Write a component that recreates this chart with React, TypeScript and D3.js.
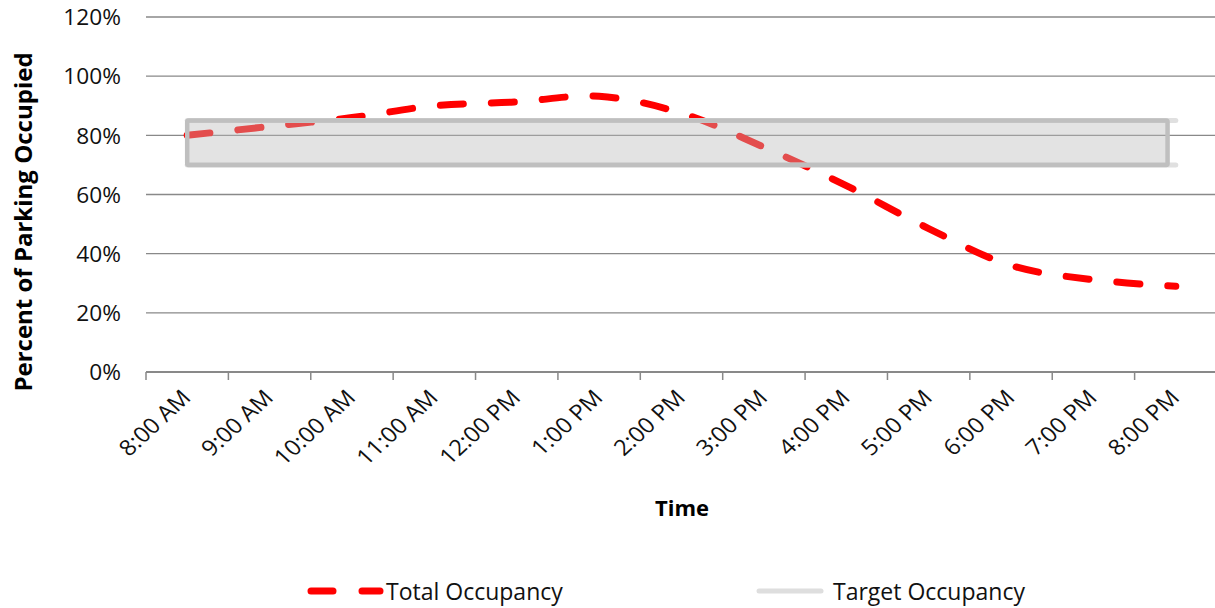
import React from 'react';
import * as d3 from 'd3';

const times = ['8:00 AM', '9:00 AM', '10:00 AM', '11:00 AM', '12:00 PM', '1:00 PM', '2:00 PM',
    '3:00 PM', '4:00 PM', '5:00 PM', '6:00 PM', '7:00 PM', '8:00 PM'];
const totalOccupancy = [80, 83, 86, 90, 91.3, 93.2, 87.5, 76, 63, 48.5, 36, 31.2, 29];
const targetLow = 70;
const targetHigh = 85;
const yTicks = [0, 20, 40, 60, 80, 100, 120];

const width = 1215;
const height = 608;
const font = "'Open Sans', 'Liberation Sans', sans-serif";
// the source picture is a little wider than tall, so text is stretched sideways a bit
const stretch = 1.08;

const App: React.FC = () => {
    const margin = { top: 17, right: -2, bottom: 236, left: 146 };
    const innerBottom = height - margin.bottom;

    const xScale = d3.scaleBand<string>()
        .domain(times)
        .range([margin.left, width - margin.right])
        .padding(0);
    const bw = xScale.bandwidth();
    const cx = (t: string) => (xScale(t) ?? 0) + bw / 2;

    const yScale = d3.scaleLinear()
        .domain([0, 120])
        .range([innerBottom, margin.top]);

    const line = d3.line<number>()
        .x((d, i) => cx(times[i]))
        .y((d) => yScale(d))
        .curve(d3.curveCatmullRom.alpha(0.5));

    const boxLeft = cx(times[0]);
    const boxRight = cx(times[times.length - 1]) - bw * 0.1;
    const lineRight = cx(times[times.length - 1]);

    const tickXs = times.map(t => xScale(t) ?? 0);

    return (
        <svg width={width} height={height} style={{ position: 'absolute', left: 0, top: 0, fontFamily: font }}>
            <rect width={width} height={height} fill="#fff" />

            {/* gridlines */}
            {yTicks.filter(v => v > 0).map(v => (
                <line key={v} x1={margin.left} x2={width - margin.right} y1={yScale(v)} y2={yScale(v)}
                    stroke="#898989" strokeWidth={1.4} />
            ))}

            {/* y labels */}
            {yTicks.map(v => (
                <text key={v} transform={`translate(121,${yScale(v)}) scale(1.08,1)`} textAnchor="end"
                    dominantBaseline="central" fontSize={21} fill="#111">{v}%</text>
            ))}

            {/* x axis */}
            <line x1={margin.left} x2={width - margin.right} y1={innerBottom} y2={innerBottom}
                stroke="#898989" strokeWidth={2} />
            {tickXs.map((x, i) => (
                <line key={i} x1={x} x2={x} y1={innerBottom} y2={innerBottom + 8} stroke="#898989" strokeWidth={1.5} />
            ))}
            {times.map(t => (
                <text key={t}
                    transform={`translate(${cx(t) + 5},${innerBottom + 27}) scale(${stretch},1) rotate(-45)`}
                    textAnchor="end" fontSize={22} fill="#111">{t}</text>
            ))}

            {/* total occupancy */}
            <path d={line(totalOccupancy) ?? ''} fill="none" stroke="#ff0000" strokeWidth={7}
                strokeLinecap="round" strokeDasharray="23,28" />

            {/* target occupancy */}
            {[targetHigh, targetLow].map(v => (
                <line key={v} x1={boxLeft} x2={lineRight} y1={yScale(v)} y2={yScale(v)}
                    stroke="#e0e0e0" strokeWidth={5} strokeLinecap="round" />
            ))}
            <rect x={boxLeft} y={yScale(targetHigh)} width={boxRight - boxLeft}
                height={yScale(targetLow) - yScale(targetHigh)}
                fill="rgb(187,187,187)" fillOpacity={0.41} stroke="#bfbfbf" strokeWidth={4.5} rx={1.5} />

            {/* axis titles */}
            <text transform={`translate(32,222) rotate(-90)`} textAnchor="middle" fontSize={24}
                fontWeight="bold" fill="#000">Percent of Parking Occupied</text>
            <text x={682} y={516} textAnchor="middle" fontSize={22} fontWeight="bold" fill="#000">Time</text>

            {/* legend */}
            <line x1={311} x2={380} y1={591} y2={591} stroke="#ff0000" strokeWidth={7}
                strokeLinecap="round" strokeDasharray="22,29" />
            <text x={386} y={591} dominantBaseline="central" fontSize={23} fill="#111">Total Occupancy</text>
            <line x1={759} x2={821} y1={591} y2={591} stroke="#dedede" strokeWidth={5} strokeLinecap="round" />
            <text x={833} y={591} dominantBaseline="central" fontSize={23} fill="#111">Target Occupancy</text>
        </svg>
    );
};

export default App;
